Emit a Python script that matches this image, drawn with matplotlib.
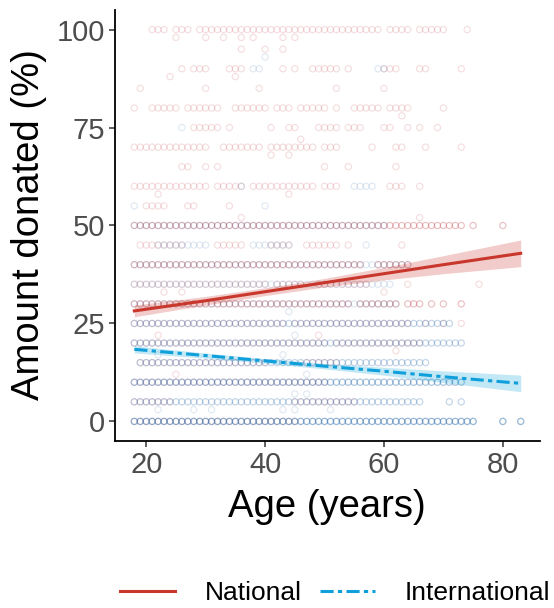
import numpy as np
import matplotlib
matplotlib.use("Agg")
import matplotlib.pyplot as plt
from matplotlib.lines import Line2D

plt.rcParams['font.family'] = ['Liberation Sans', 'DejaVu Sans']

# scatter rows: (amount %, ages with a circle, stacked answers)
national_rows = [
    (100, "21-23,25-27,29-59,61-64,66-70,74", 1),
    (98, "25,30,33,36,38,43,45", 1),
    (95, "36,40,43", 1),
    (90, "26,28-30,34-36,43,45,48-52,54,60-62,66-67,73", 1),
    (88, "24,35", 1),
    (85, "19,30,39,52,60", 1),
    (80, "18,21-25,27-32,35-40,42-44,46-50,52,55-59,61-64,70", 1),
    (78, "63", 1),
    (75, "28-32,34,41,44-45,49-52,54-56,60-61,64,66,69", 1),
    (72, "46", 1),
    (70, "18-30,33-39,41-48,50-52,58,62-63,67,73", 1),
    (68, "41,44", 1),
    (65, "26-27,30,32,50,54,62", 1),
    (60, "18-30,32-36,38-48,50-52,61-63,66", 1),
    (58, "22,44", 1),
    (55, "20-23,27-28,34", 1),
    (52, "36,66", 1),
    (50, "18-73,75,80", 2),
    (45, "19-26,32-36,41-44,47-52,54,63", 1),
    (40, "18-56,59-64", 2),
    (35, "18-40,42-46,49-57,64,76", 1),
    (33, "23,26,60", 1),
    (30, "18-54,56-62,64-66,68,70,73", 2),
    (25, "18-43,45-64,67,70,73", 1),
    (22, "22,49", 1),
    (20, "18-50,52-66", 1),
    (18, "62", 1),
    (15, "19-40,47-52", 1),
    (12, "25", 1),
    (10, "18-50", 1),
    (5, "18-24,45-55", 1),
    (0, "18-45", 1),
]

international_rows = [
    (93, "40", 1),
    (90, "38-39,59-60", 1),
    (75, "26", 1),
    (60, "36,55-58", 1),
    (55, "18,40", 1),
    (50, "18-60", 1),
    (45, "22-30,38-44,57", 1),
    (40, "18-64", 1),
    (35, "18-61", 1),
    (30, "18-62", 1),
    (28, "44", 1),
    (25, "18-71", 2),
    (22, "45", 1),
    (20, "18-73", 2),
    (17, "22,43", 1),
    (15, "19-67", 2),
    (12, "47", 1),
    (10, "18-73", 3),
    (7, "45,47", 1),
    (5, "18-66,71,73", 2),
    (3, "22,28,31,43,45,51", 1),
    (0, "18-75,80,83", 4),
]

# fitted lines with confidence band, read at a few ages
fit_age = [18, 30, 40, 50, 60, 70, 83]
national_fit = [28.2, 30.8, 33.1, 35.4, 37.7, 40.0, 42.9]
national_half = [1.5, 1.1, 1.0, 1.1, 1.6, 2.3, 3.4]
international_fit = [18.4, 16.8, 15.45, 14.1, 12.8, 11.4, 9.7]
international_half = [0.9, 0.65, 0.6, 0.7, 1.0, 1.5, 2.1]

RED = '#C9372C'
BLUE = '#0FA0DB'
RED_PT = '#C0303A'
BLUE_PT = '#2C6DAE'
DOTDASH = (0, (4.3, 1.4, 1.4, 1.4))


def expand(rows):
    xs, ys = [], []
    for level, runs, n in rows:
        for part in runs.split(','):
            if '-' in part:
                a, b = part.split('-')
                ages = range(int(a), int(b) + 1)
            else:
                ages = [int(part)]
            for age in ages:
                xs += [age] * n
                ys += [level] * n
    return np.array(xs), np.array(ys)


fig = plt.figure(figsize=(5.54, 6.08), dpi=100)
ax = fig.add_axes([115 / 554, 1 - 441 / 608, 425 / 554, 431 / 608])

nx_, ny_ = expand(national_rows)
ix_, iy_ = expand(international_rows)
ax.scatter(nx_, ny_, s=20, facecolors='none', edgecolors=RED_PT, linewidths=0.85, alpha=0.16, zorder=1)
ax.scatter(ix_, iy_, s=20, facecolors='none', edgecolors=BLUE_PT, linewidths=0.85, alpha=0.15, zorder=1)

fa = np.array(fit_age)
nf = np.array(national_fit)
nh = np.array(national_half)
itf = np.array(international_fit)
ih = np.array(international_half)
ax.fill_between(fa, nf - nh, nf + nh, color=RED, alpha=0.25, lw=0, zorder=2)
ax.fill_between(fa, itf - ih, itf + ih, color=BLUE, alpha=0.25, lw=0, zorder=2)
ax.plot(fa, nf, color=RED, lw=2.2, zorder=3)
ax.plot(fa, itf, color=BLUE, lw=2.2, ls=DOTDASH, zorder=3)

ax.set_xlim(14.75, 86.25)
ax.set_ylim(-5, 105)
ax.set_xticks([20, 40, 60, 80])
ax.set_yticks([0, 25, 50, 75, 100])
for side in ['top', 'right']:
    ax.spines[side].set_visible(False)
for side in ['left', 'bottom']:
    ax.spines[side].set_linewidth(1.3)
    ax.spines[side].set_color('black')
ax.tick_params(length=4, width=1.1, color='#333333', labelcolor='#4D4D4D', labelsize=21, pad=3)

fig.text(29 / 554, 1 - 225 / 608, 'Amount donated (%)', rotation=90, ha='center', va='center', fontsize=27.5)
fig.text(327 / 554, 1 - 507 / 608, 'Age (years)', ha='center', va='center', fontsize=27.5)

handles = [Line2D([], [], color=RED, lw=2.2),
           Line2D([], [], color=BLUE, lw=2.2, ls=DOTDASH)]
fig.legend(handles, ['National', 'International'], loc='center', ncol=2, frameon=False,
           bbox_to_anchor=(335 / 554, 1 - 593 / 608), fontsize=19, handlelength=2.1,
           handletextpad=1.1, columnspacing=0.7)

fig.savefig('out.png', dpi=100)
